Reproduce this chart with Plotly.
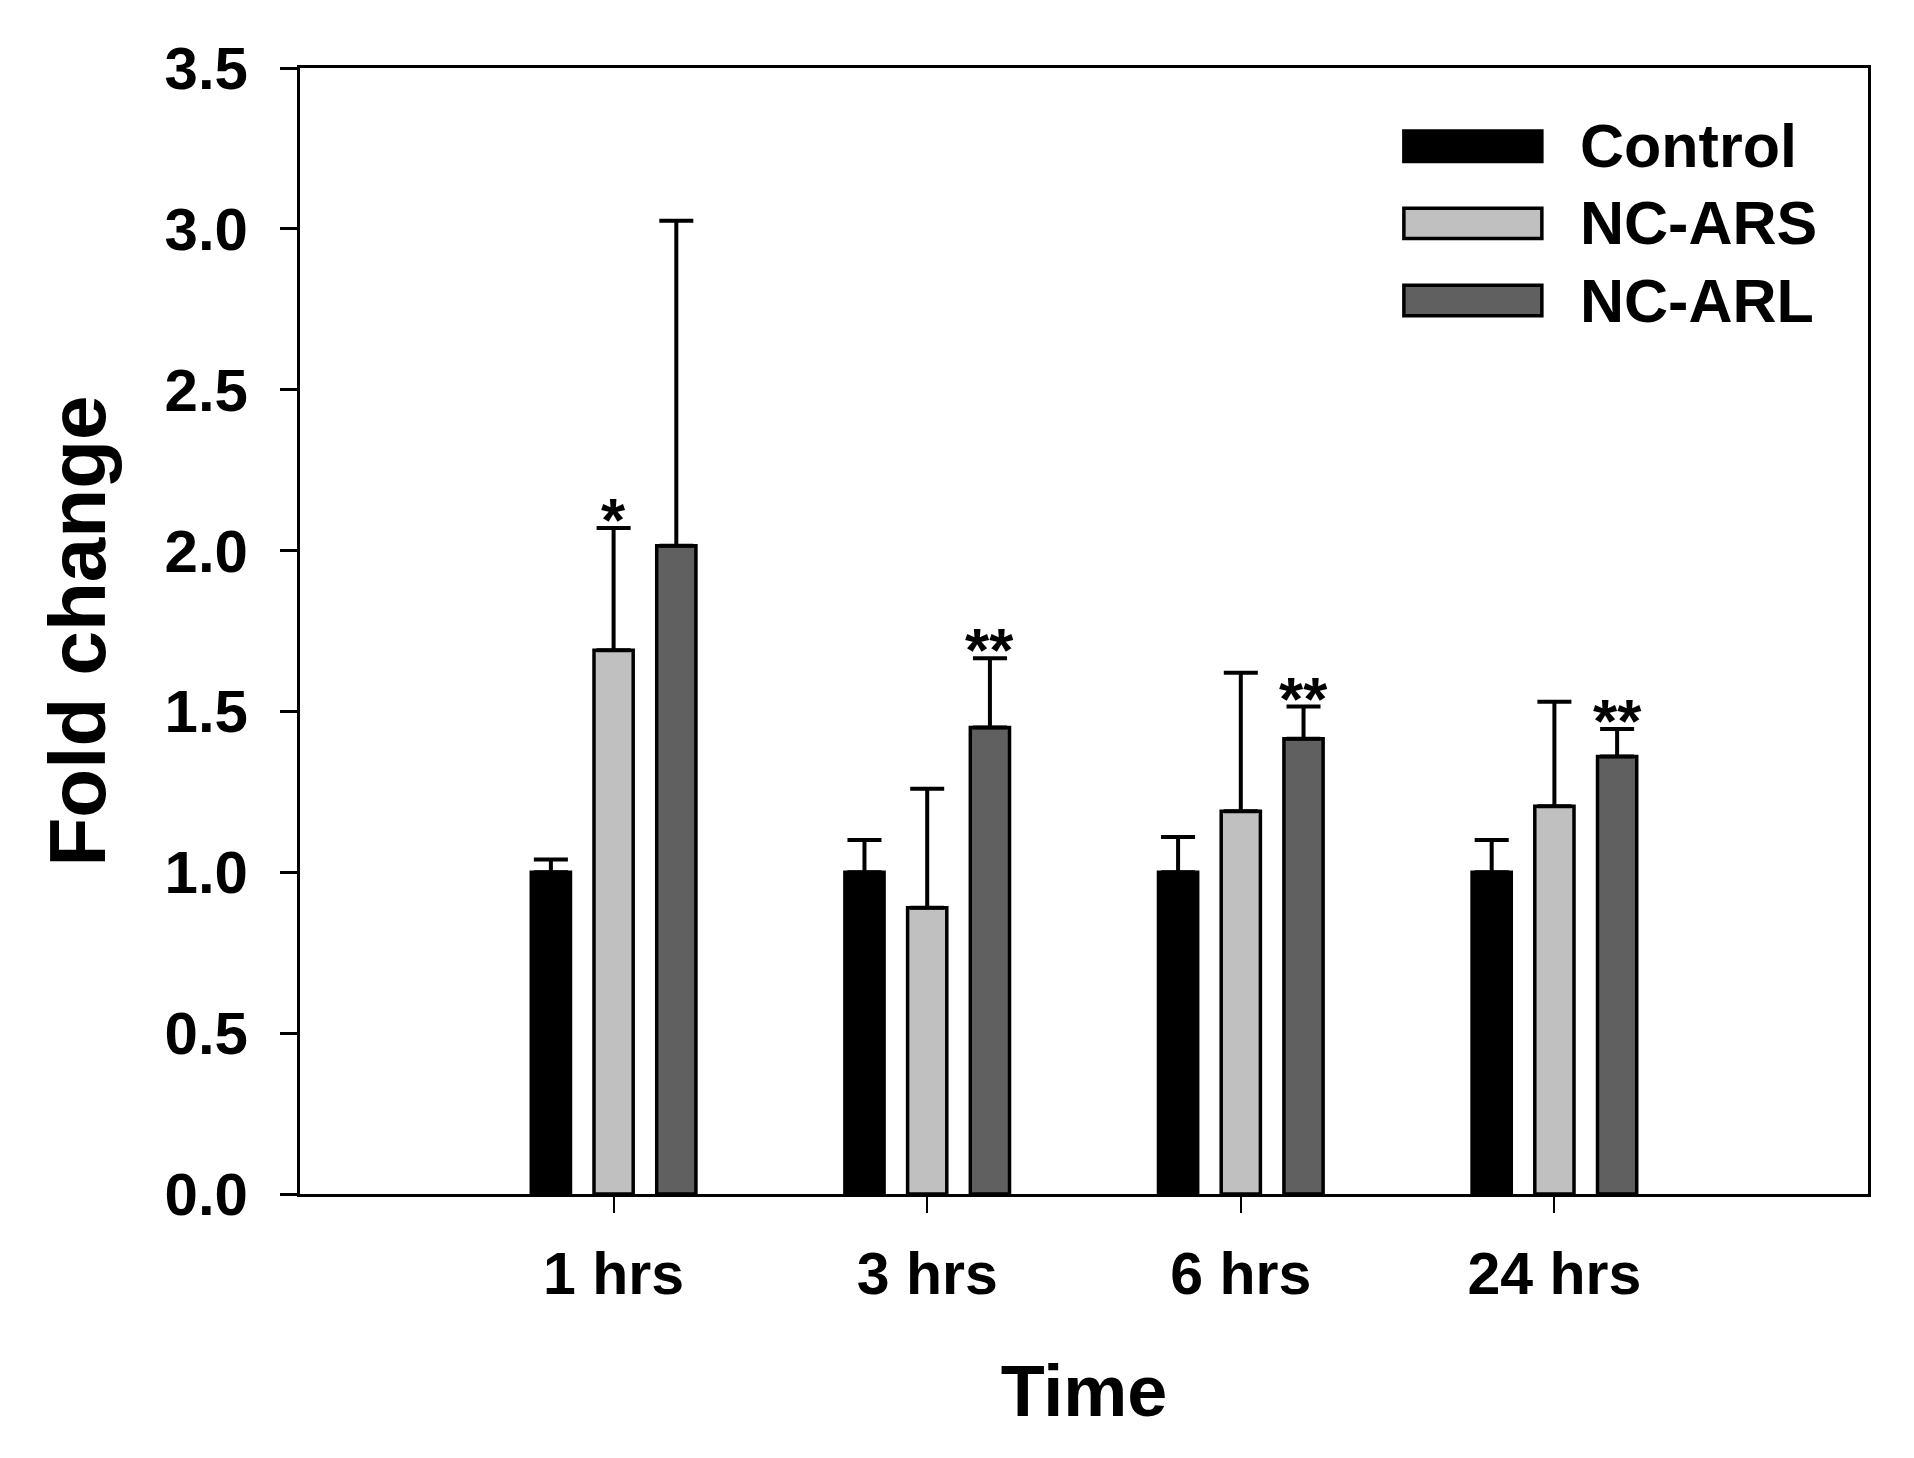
import plotly.graph_objects as go

# Data
times = ["1 hrs", "3 hrs", "6 hrs", "24 hrs"]
series = ["Control", "NC-ARS", "NC-ARL"]
colors = ["#000000", "#C0C0C0", "#606060"]

control = [1.0, 1.0, 1.0, 1.0]
control_err = [0.04, 0.10, 0.11, 0.10]
nc_ars = [1.69, 0.89, 1.19, 1.205]
nc_ars_err = [0.38, 0.37, 0.43, 0.325]
nc_arl = [2.015, 1.45, 1.415, 1.36]
nc_arl_err = [1.01, 0.215, 0.10, 0.085]

# significance marks: (time index, series index, label)
stars = [(0, 1, "*"), (1, 2, "**"), (2, 2, "**"), (3, 2, "**")]

values = [control, nc_ars, nc_arl]
errors = [control_err, nc_ars_err, nc_arl_err]

FONT = "Liberation Sans, Arial, sans-serif"

fig = go.Figure()
for name, vals, errs, col in zip(series, values, errors, colors):
    fig.add_trace(go.Bar(
        x=times, y=vals, name=name,
        marker=dict(color=col, line=dict(color="black", width=3.5)),
        error_y=dict(type="data", symmetric=False, array=errs,
                     arrayminus=[0] * len(errs),
                     color="black", thickness=4, width=17),
        showlegend=False,
    ))

# asterisks above the error caps
slot = 0.2
for ti, si, lab in stars:
    top = values[si][ti] + errors[si][ti]
    fig.add_annotation(x=ti + (si - 1) * slot, y=top, text="<b>%s</b>" % lab,
                       showarrow=False, yanchor="bottom", yshift=-28,
                       font=dict(family=FONT, size=62, color="black"))

# legend drawn by hand to get the wide swatches
leg_y = [0.9305, 0.862, 0.7935]
for name, col, yy in zip(series, colors, leg_y):
    fig.add_shape(type="rect", xref="paper", yref="paper",
                  x0=0.704, x1=0.792, y0=yy - 0.0135, y1=yy + 0.0135,
                  fillcolor=col, line=dict(color="black", width=3.5))
    fig.add_annotation(xref="paper", yref="paper", x=0.815, y=yy,
                       text="<b>%s</b>" % name, showarrow=False,
                       xanchor="left", yanchor="middle",
                       font=dict(family=FONT, size=61, color="black"))

fig.update_layout(
    width=1898, height=1442,
    margin=dict(l=292, r=38, t=60, b=256),
    paper_bgcolor="white", plot_bgcolor="white",
    barmode="group", bargap=0.4, bargroupgap=0.375,
    font=dict(family=FONT, color="black"),
)
fig.update_xaxes(
    range=[-1, 4], showline=True, mirror=True, linecolor="black", linewidth=3,
    ticks="outside", ticklen=16, tickwidth=2, tickcolor="black",
    tickfont=dict(size=59), ticklabelstandoff=10,
    title=dict(text="<b>Time</b>", font=dict(size=72), standoff=60),
    showgrid=False, zeroline=False,
)
fig.update_yaxes(
    range=[0, 3.5], dtick=0.5, tickformat=".1f",
    showline=True, mirror=True, linecolor="black", linewidth=3,
    ticks="outside", ticklen=17, tickwidth=3, tickcolor="black",
    tickfont=dict(size=60), ticklabelstandoff=20,
    title=dict(text="<b>Fold change</b>", font=dict(size=80), standoff=33),
    showgrid=False, zeroline=False,
)
fig.update_xaxes(tickprefix="<b>", ticksuffix="</b>")
fig.update_yaxes(tickprefix="<b>", ticksuffix="</b>")

fig.write_html("out.html")
